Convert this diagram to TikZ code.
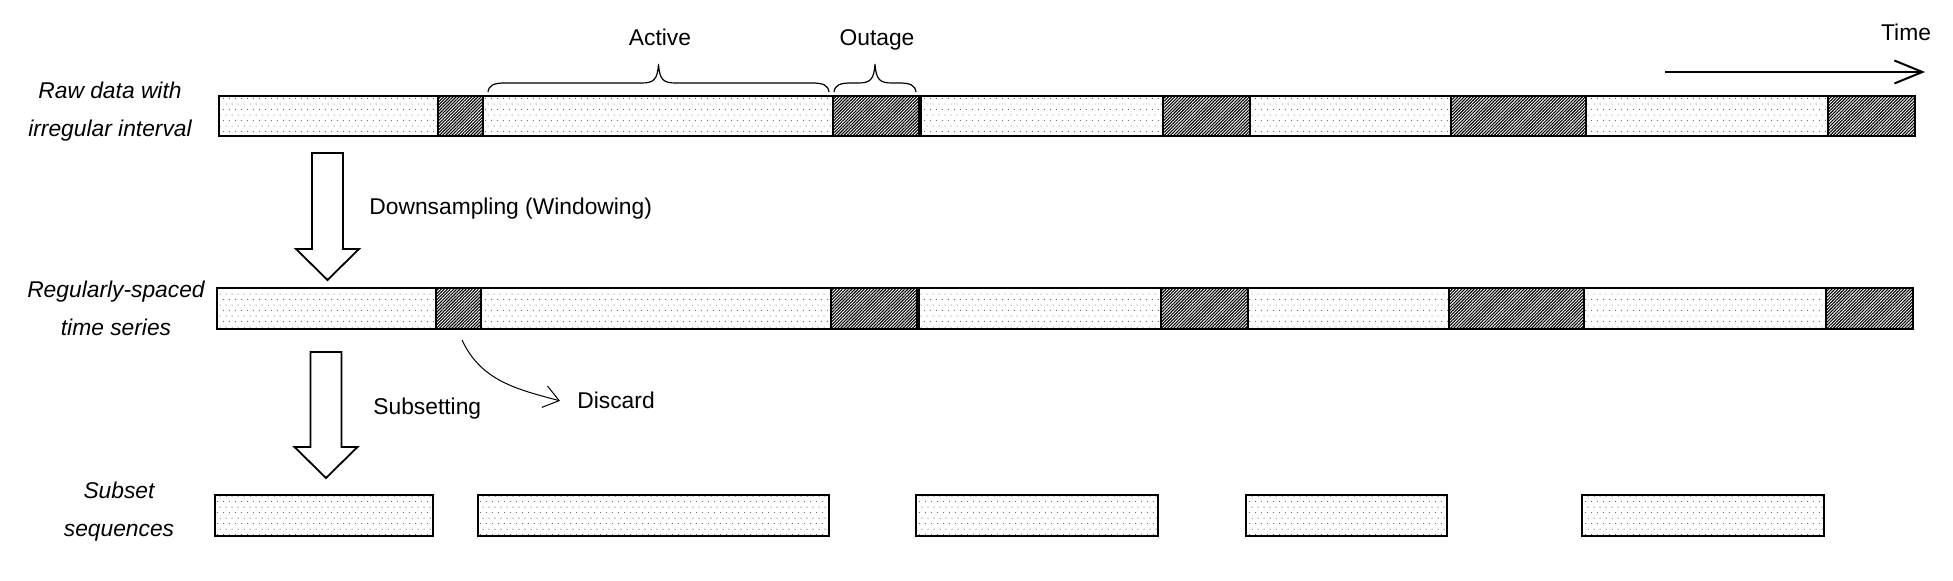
\documentclass[tikz,border=0pt]{standalone}
\usepackage{fontspec}
\setmainfont{Liberation Sans}
\usetikzlibrary{patterns.meta,arrows.meta,positioning}

\tikzdeclarepattern{
	name=sparse dots,
	type=uncolored,
	bounding box={(0pt,0pt) and (2.85pt,5.6pt)},
	tile size={(2.85pt,5.6pt)},
	code={
		\fill (0.7pt,1.4pt) circle (0.24pt);
		\fill (2.125pt,4.2pt) circle (0.24pt);
	}
}

% block arrow: centre x, top y, tip y
\newcommand{\blockarrow}[3]{
	\draw[blockarrow] ({#1-15.5},#2) -- ({#1+15.5},#2) -- ({#1+15.5},{#3-31})
		-- ({#1+31.5},{#3-31}) -- (#1,#3) -- ({#1-31.5},{#3-31})
		-- ({#1-15.5},{#3-31}) -- cycle;
}

% curly brace over a segment: left x, right x
\newcommand{\curlybrace}[2]{
	\draw[bracepath] (#1,92) .. controls ({#1+1},85) and ({#1+6},83) .. ({#1+17},83)
		-- ({(#1+#2)/2-17},83) .. controls ({(#1+#2)/2-5},83) and ({(#1+#2)/2-1},80) .. ({(#1+#2)/2},64)
		.. controls ({(#1+#2)/2+1},80) and ({(#1+#2)/2+5},83) .. ({(#1+#2)/2+17},83)
		-- ({#2-17},83) .. controls ({#2-6},83) and ({#2-1},85) .. (#2,92);
}

\begin{document}
\begin{tikzpicture}[x=0.5pt,y=-0.5pt,font=\fontsize{11.4}{19}\selectfont]
	\tikzset{
		active/.style={draw, line width=1pt, pattern=sparse dots, inner sep=0pt, outer sep=0pt},
		outage/.style={draw, line width=1.3pt, pattern={Lines[angle=45,distance=1.1pt,line width=0.55pt]}, inner sep=0pt, outer sep=0pt},
		rowlabel/.style={align=center, font=\fontsize{11.4}{19}\selectfont\itshape, inner sep=0pt, anchor=base},
		steplabel/.style={inner sep=0pt, anchor=base west},
		toplabel/.style={inner sep=0pt, anchor=base},
		blockarrow/.style={draw, line width=0.9pt, fill=white, line join=miter},
		bracepath/.style={line width=0.6pt},
		thinarrow/.style={-{Straight Barb[length=7.5pt,width=11pt]}, line width=0.5pt},
		timearrow/.style={-{Straight Barb[length=14pt,width=11.5pt]}, line width=1pt}
	}
	\useasboundingbox (0,0) rectangle (1953,581);
	
	% raw data
	\foreach \a/\b/\kind [count=\i] in {219/438/active, 438/483/outage, 483/833/active, 833/919/outage,
		921/1163/active, 1163/1250/outage, 1250/1451/active, 1451/1586/outage, 1586/1828/active, 1828/1915/outage}
		\node[\kind, minimum width={(\b-\a)*0.5pt}, minimum height=20pt] (raw\i) at ({(\a+\b)/2},116) {};
	
	% regularly spaced
	\foreach \a/\b/\kind [count=\i] in {217/436/active, 436/481/outage, 481/831/active, 831/917/outage,
		919/1161/active, 1161/1248/outage, 1248/1449/active, 1449/1584/outage, 1584/1826/active, 1826/1913/outage}
		\node[\kind, minimum width={(\b-\a)*0.5pt}, minimum height=20.5pt] (reg\i) at ({(\a+\b)/2},308.5) {};
	
	% subsets
	\foreach \a/\b [count=\i] in {215/433, 478/829, 916/1158, 1246/1447, 1582/1824}
		\node[active, minimum width={(\b-\a)*0.5pt}, minimum height=20.5pt] (sub\i) at ({(\a+\b)/2},515.5) {};
	
	\node[rowlabel] (rawlabel) at (110,137) {Raw data with\\irregular interval};
	\node[rowlabel] (reglabel) at (116,336) {Regularly-spaced\\time series};
	\node[rowlabel] (sublabel) at (119,537) {Subset\\sequences};
	
	\curlybrace{488}{829}
	\curlybrace{834}{916}
	\node[toplabel] (active) at (660,46) {Active};
	\node[toplabel] (outage) at (877,46) {Outage};
	
	\coordinate (tstart) at (1665,72);
	\coordinate (tend) at (1925,72);
	\draw[timearrow] (tstart) -- (tend);
	\node[toplabel] (time) at (1906,41) {Time};
	
	\blockarrow{327.5}{153}{280}
	\blockarrow{326}{352}{478}
	\node[steplabel] (downsampling) at (369,215) {Downsampling (Windowing)};
	\node[steplabel] (subsetting) at (373,415) {Subsetting};
	
	\node[steplabel] (discard) at (577,409) {Discard};
	\draw[thinarrow] ([xshift=1.75pt,yshift=-5.5pt]reg2.south) to[out=-65,in=165] ([xshift=-8.5pt]discard.west);
\end{tikzpicture}
\end{document}
